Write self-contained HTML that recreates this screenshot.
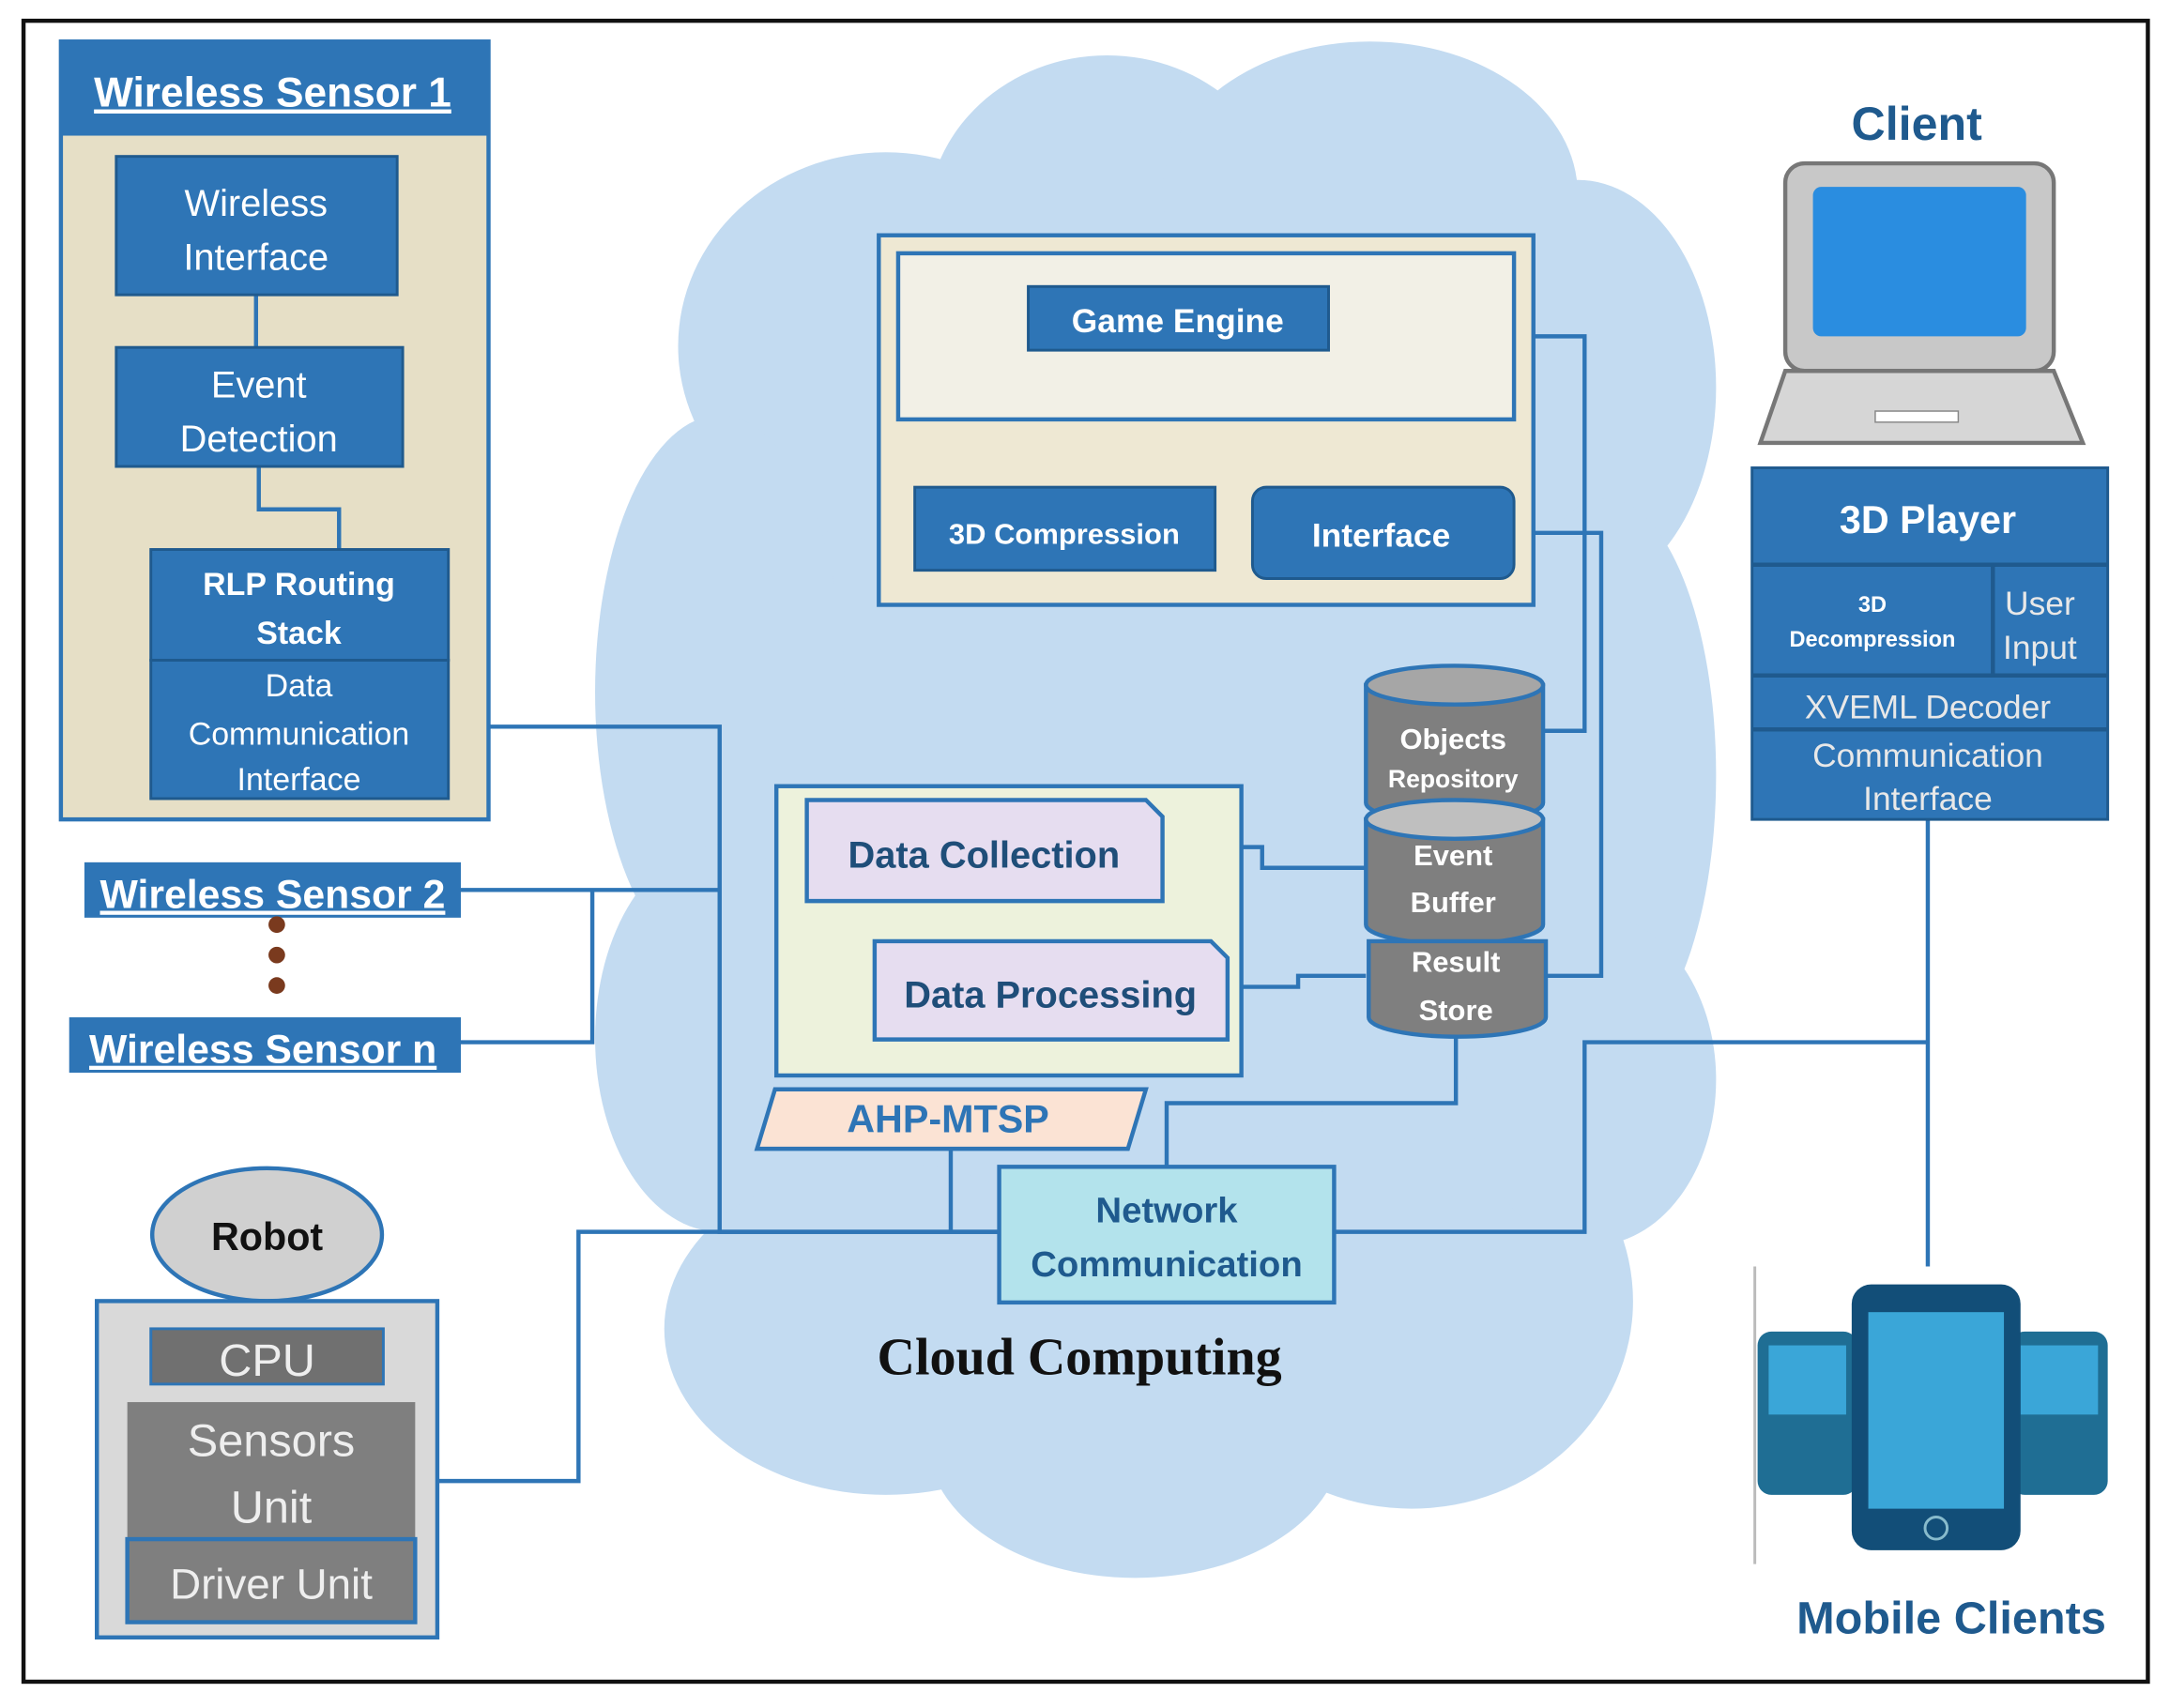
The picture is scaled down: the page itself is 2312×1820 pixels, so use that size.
<!DOCTYPE html>
<html><head><meta charset="utf-8"><style>
html,body{margin:0;padding:0;background:#fff;}
svg{display:block;}
text{font-family:"Liberation Sans",sans-serif;}
</style></head><body>
<svg width="2312" height="1820" viewBox="0 0 1568 1234" preserveAspectRatio="none" xmlns="http://www.w3.org/2000/svg">
<rect x="17" y="15" width="1535" height="1200" fill="#fff" stroke="#111" stroke-width="3"/>
<g fill="#c3dbf1">
<ellipse cx="830" cy="600" rx="370" ry="420"/>
<ellipse cx="640" cy="250" rx="150" ry="140"/>
<ellipse cx="800" cy="160" rx="130" ry="120"/>
<ellipse cx="990" cy="140" rx="150" ry="110"/>
<ellipse cx="1140" cy="280" rx="100" ry="150"/>
<ellipse cx="1160" cy="560" rx="80" ry="200"/>
<ellipse cx="520" cy="500" rx="90" ry="200"/>
<ellipse cx="520" cy="750" rx="90" ry="140"/>
<ellipse cx="640" cy="960" rx="160" ry="120"/>
<ellipse cx="820" cy="1040" rx="150" ry="100"/>
<ellipse cx="1020" cy="940" rx="160" ry="150"/>
<ellipse cx="1150" cy="780" rx="90" ry="120"/>
</g>
<g stroke="#2e75b6" stroke-width="3" fill="none">
<polyline points="324,525 520,525 520,890 722,890"/>
<polyline points="333,643 520,643"/>
<polyline points="428,643 428,753 333,753"/>
<polyline points="316,1070 418,1070 418,890 722,890"/>
<polyline points="687,830 687,890"/>
<polyline points="1094,243 1145,243 1145,528 1115,528"/>
<polyline points="1094,385 1157,385 1157,705 1117,705"/>
<polyline points="840,612 912,612 912,627 987,627"/>
<polyline points="887,713 938,713 938,705 987,705"/>
<polyline points="1052,745 1052,797 843,797 843,843"/>
<polyline points="964,890 1145,890 1145,753 1393,753"/>
<polyline points="1393,592 1393,915"/>
<line x1="878" y1="382" x2="905" y2="382"/>
<line x1="745" y1="651" x2="745" y2="680"/>
</g>
<rect x="44" y="30" width="309" height="562" fill="#e6dfc6" stroke="#2e75b6" stroke-width="3"/>
<rect x="44" y="30" width="309" height="68" fill="#2e75b6"/>
<text x="197" y="77" font-size="30" font-weight="bold" fill="#fff" text-anchor="middle" text-decoration="underline">Wireless Sensor 1</text>
<g stroke="#2e75b6" stroke-width="3" fill="none">
<line x1="185" y1="213" x2="185" y2="251"/>
<polyline points="187,337 187,368 245,368 245,397"/>
</g>
<g fill="#2e75b6" stroke="#1f5a8e" stroke-width="2">
<rect x="84" y="113" width="203" height="100"/>
<rect x="84" y="251" width="207" height="86"/>
<rect x="109" y="397" width="215" height="80"/>
<rect x="109" y="477" width="215" height="100"/>
</g>
<g fill="#fff" font-size="27" text-anchor="middle">
<text x="185" y="156">Wireless</text><text x="185" y="195">Interface</text>
<text x="187" y="287">Event</text><text x="187" y="326">Detection</text>
<text x="216" y="430" font-size="23" font-weight="bold">RLP Routing</text><text x="216" y="465" font-size="23" font-weight="bold">Stack</text>
<text x="216" y="503" font-size="23">Data</text><text x="216" y="538" font-size="23">Communication</text><text x="216" y="571" font-size="23">Interface</text>
</g>
<rect x="61" y="623" width="272" height="40" fill="#2e75b6"/>
<text x="197" y="656" font-size="29" font-weight="bold" fill="#fff" text-anchor="middle" text-decoration="underline">Wireless Sensor 2</text>
<g fill="#7a3a1e"><circle cx="200" cy="668" r="6"/><circle cx="200" cy="690" r="6"/><circle cx="200" cy="712" r="6"/></g>
<rect x="50" y="735" width="283" height="40" fill="#2e75b6"/>
<text x="190" y="768" font-size="29" font-weight="bold" fill="#fff" text-anchor="middle" text-decoration="underline">Wireless Sensor n</text>
<ellipse cx="193" cy="892" rx="83" ry="48" fill="#d0d0d0" stroke="#2e75b6" stroke-width="3"/>
<text x="193" y="903" font-size="28" font-weight="bold" fill="#111" text-anchor="middle">Robot</text>
<rect x="70" y="940" width="246" height="243" fill="#d9d9d9" stroke="#2e75b6" stroke-width="3"/>
<rect x="109" y="960" width="168" height="40" fill="#707070" stroke="#2e75b6" stroke-width="2"/>
<rect x="92" y="1013" width="208" height="99" fill="#7f7f7f"/>
<rect x="92" y="1112" width="208" height="60" fill="#7f7f7f" stroke="#2e75b6" stroke-width="3"/>
<g fill="#eee" font-size="33" text-anchor="middle">
<text x="193" y="994">CPU</text><text x="196" y="1052">Sensors</text><text x="196" y="1100">Unit</text><text x="196" y="1155" font-size="31">Driver Unit</text>
</g>
<rect x="635" y="170" width="473" height="267" fill="#eee8d3" stroke="#2e75b6" stroke-width="3"/>
<rect x="649" y="183" width="445" height="120" fill="#f2f0e6" stroke="#2e75b6" stroke-width="3"/>
<rect x="743" y="207" width="217" height="46" fill="#2e75b6" stroke="#1f5a8e" stroke-width="2"/>
<text x="851" y="240" font-size="24" font-weight="bold" fill="#fff" text-anchor="middle">Game Engine</text>
<rect x="661" y="352" width="217" height="60" fill="#2e75b6" stroke="#1f5a8e" stroke-width="2"/>
<text x="769" y="393" font-size="21" font-weight="bold" fill="#fff" text-anchor="middle">3D Compression</text>
<rect x="905" y="352" width="189" height="66" rx="10" fill="#2e75b6" stroke="#1f5a8e" stroke-width="2"/>
<text x="998" y="395" font-size="24" font-weight="bold" fill="#fff" text-anchor="middle">Interface</text>
<g stroke="#2e75b6" stroke-width="3">
<path d="M987,495 L987,580 A64,14 0 0 0 1115,580 L1115,495 Z" fill="#7f7f7f"/>
<ellipse cx="1051" cy="495" rx="64" ry="14" fill="#a6a6a6"/>
<path d="M987,592 L987,668 A64,14 0 0 0 1115,668 L1115,592 Z" fill="#7f7f7f"/>
<ellipse cx="1051" cy="592" rx="64" ry="14" fill="#bfbfbf"/>
<path d="M989,680 L989,735 A64,14 0 0 0 1117,735 L1117,680 Z" fill="#7f7f7f"/>
</g>
<g fill="#fff" font-size="21" font-weight="bold" text-anchor="middle">
<text x="1050" y="541">Objects</text><text x="1050" y="569" font-size="18">Repository</text>
<text x="1050" y="625">Event</text><text x="1050" y="659">Buffer</text>
<text x="1052" y="702">Result</text><text x="1052" y="737">Store</text>
</g>
<rect x="561" y="568" width="336" height="209" fill="#edf2dc" stroke="#2e75b6" stroke-width="3"/>
<path d="M583,578 L828,578 L840,590 L840,651 L583,651 Z" fill="#e6ddf0" stroke="#2e75b6" stroke-width="3"/>
<text x="711" y="627" font-size="27" font-weight="bold" fill="#1f4e79" text-anchor="middle">Data Collection</text>
<path d="M632,680 L875,680 L887,692 L887,751 L632,751 Z" fill="#e6ddf0" stroke="#2e75b6" stroke-width="3"/>
<text x="759" y="728" font-size="27" font-weight="bold" fill="#1f4e79" text-anchor="middle">Data Processing</text>
<polygon points="560,787 828,787 815,830 547,830" fill="#fbe3d4" stroke="#2e75b6" stroke-width="3"/>
<text x="685" y="818" font-size="28" font-weight="bold" fill="#2e75b6" text-anchor="middle">AHP-MTSP</text>
<rect x="722" y="843" width="242" height="98" fill="#b3e3ec" stroke="#2e75b6" stroke-width="3"/>
<text x="843" y="883" font-size="26" font-weight="bold" fill="#1f5a8e" text-anchor="middle">Network</text>
<text x="843" y="922" font-size="26" font-weight="bold" fill="#1f5a8e" text-anchor="middle">Communication</text>
<text x="780" y="993" font-size="38" font-weight="bold" fill="#111" text-anchor="middle" style="font-family:'Liberation Serif',serif">Cloud Computing</text>
<text x="1385" y="101" font-size="34" font-weight="bold" fill="#1f5a8e" text-anchor="middle">Client</text>
<rect x="1290" y="118" width="194" height="150" rx="14" fill="#c8c8c8" stroke="#777" stroke-width="3"/>
<rect x="1310" y="135" width="154" height="108" rx="6" fill="#2a8de0"/>
<polygon points="1290,268 1484,268 1505,320 1272,320" fill="#d6d6d6" stroke="#777" stroke-width="3"/>
<rect x="1355" y="297" width="60" height="8" fill="#fff" stroke="#888"/>
<rect x="1266" y="338" width="257" height="254" fill="#2e75b6" stroke="#1f5a8e" stroke-width="2"/>
<g stroke="#1f5a8e" stroke-width="3" fill="none">
<line x1="1266" y1="408" x2="1523" y2="408"/>
<line x1="1266" y1="488" x2="1523" y2="488"/>
<line x1="1266" y1="527" x2="1523" y2="527"/>
<line x1="1440" y1="408" x2="1440" y2="488"/>
</g>
<text x="1393" y="385" font-size="28" font-weight="bold" fill="#fff" text-anchor="middle">3D Player</text>
<text x="1353" y="442" font-size="16" font-weight="bold" fill="#fff" text-anchor="middle">3D</text>
<text x="1353" y="467" font-size="16" font-weight="bold" fill="#fff" text-anchor="middle">Decompression</text>
<g fill="#e8e8e8" text-anchor="middle" style="font-family:'Liberation Serif',serif" font-size="24">
<text x="1474" y="444">User</text><text x="1474" y="476">Input</text>
<text x="1393" y="519">XVEML Decoder</text>
<text x="1393" y="554">Communication</text><text x="1393" y="585">Interface</text>
</g>
<line x1="1268" y1="915" x2="1268" y2="1130" stroke="#bbb" stroke-width="2"/>
<rect x="1270" y="962" width="72" height="118" rx="10" fill="#1f6e94"/>
<rect x="1278" y="972" width="56" height="50" fill="#3aa6d8"/>
<rect x="1453" y="962" width="70" height="118" rx="10" fill="#1f6e94"/>
<rect x="1460" y="972" width="56" height="50" fill="#3aa6d8"/>
<rect x="1338" y="928" width="122" height="192" rx="14" fill="#124e78"/>
<rect x="1350" y="948" width="98" height="142" fill="#3aa6d8"/>
<circle cx="1399" cy="1104" r="8" fill="none" stroke="#8bc" stroke-width="2"/>
<text x="1410" y="1180" font-size="33" font-weight="bold" fill="#1f5a8e" text-anchor="middle">Mobile Clients</text>
</svg>
</body></html>
